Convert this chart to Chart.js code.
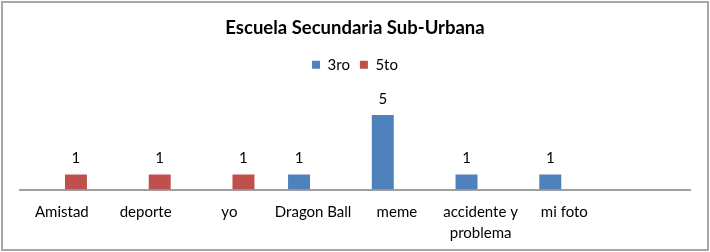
<!DOCTYPE html>
<html>
<head>
<meta charset="utf-8">
<script src="https://cdn.jsdelivr.net/npm/chart.js@4/dist/chart.umd.min.js"></script>
<style>
  html, body { margin: 0; padding: 0; background: #fff; }
  #wrap { position: relative; width: 710px; height: 252px; }
  #frame {
    position: absolute; left: 1px; top: 1px; width: 708px; height: 250px;
    box-sizing: border-box; border: 2px solid #a6a6a6; pointer-events: none;
  }
</style>
</head>
<body>
<div id="wrap">
  <canvas id="chart" width="710" height="252"></canvas>
  <div id="frame"></div>
</div>
<script>
// Chart data
const categories = ['Amistad', 'deporte', 'yo', 'Dragon Ball', 'meme', ['accidente y', 'problema'], 'mi foto', ''];
const tercero = [null, null, null, 1, 5, 1, 1, null];
const quinto = [1, 1, 1, null, null, null, null, null];

const FONT = 'Lato, "Open Sans", sans-serif';

// Draws the value above each bar
const valueLabels = {
    id: 'valueLabels',
    afterDatasetsDraw(chart) {
        const ctx = chart.ctx;
        ctx.save();
        ctx.font = '15px ' + FONT;
        ctx.fillStyle = '#000';
        ctx.textAlign = 'center';
        ctx.textBaseline = 'middle';
        chart.data.datasets.forEach((ds, i) => {
            const meta = chart.getDatasetMeta(i);
            meta.data.forEach((bar, j) => {
                const v = ds.data[j];
                if (v === null || v === undefined) return;
                ctx.fillText(String(v), bar.x, bar.y - 16);
            });
        });
        ctx.restore();
    }
};

const config = {
    type: 'bar',
    data: {
        labels: categories,
        datasets: [
            { label: '3ro', data: tercero, backgroundColor: '#4F81BD', borderWidth: 0 },
            { label: '5to', data: quinto, backgroundColor: '#C0504D', borderWidth: 0 }
        ]
    },
    options: {
        responsive: false,
        animation: false,
        layout: { padding: { left: 20, right: 20, top: 0, bottom: -3.5 } },
        categoryPercentage: 0.673,
        barPercentage: 0.78,
        plugins: {
            title: {
                display: true,
                text: 'Escuela Secundaria Sub-Urbana',
                color: '#000',
                font: { family: FONT, size: 18.5, weight: 'bold' },
                padding: { top: 17, bottom: 8 }
            },
            legend: {
                display: true,
                labels: {
                    color: '#000',
                    font: { family: FONT, size: 15 },
                    boxWidth: 8,
                    boxHeight: 8,
                    padding: 10
                }
            },
            tooltip: { enabled: false }
        },
        scales: {
            x: {
                grid: { display: false, drawTicks: false },
                border: { display: true, color: '#a0a0a0', width: 2 },
                ticks: {
                    color: '#000',
                    font: { family: FONT, size: 15, lineHeight: 1.4 },
                    padding: 12,
                    maxRotation: 0,
                    autoSkip: false
                }
            },
            y: {
                display: false,
                min: 0,
                max: 7.2
            }
        }
    },
    plugins: [valueLabels]
};

new Chart(document.getElementById('chart'), config);
</script>
</body>
</html>
